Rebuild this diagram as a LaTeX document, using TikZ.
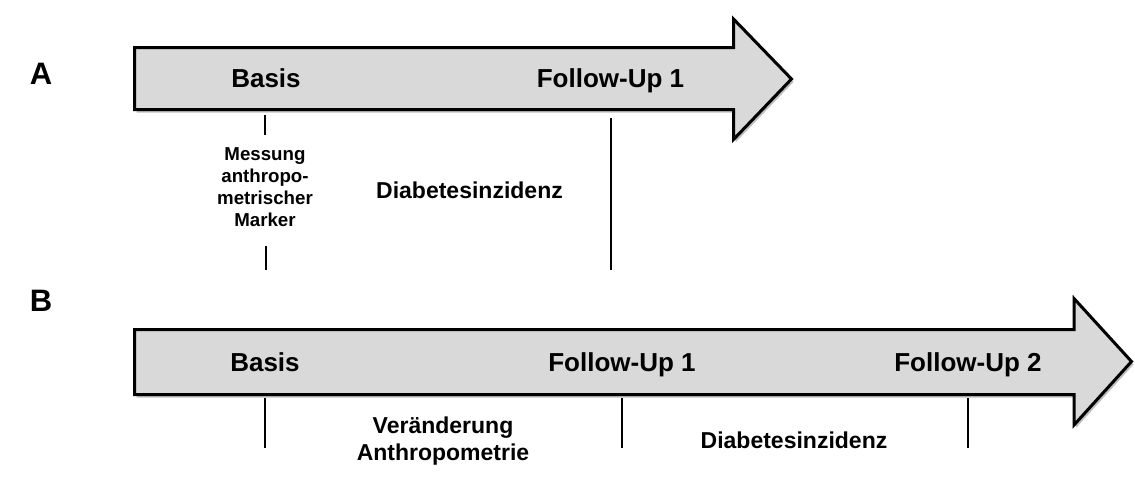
\documentclass[tikz,border=0pt]{standalone}
\usepackage{fontspec}
\setmainfont{Liberation Sans}
\definecolor{arrowfill}{HTML}{D9D9D9}
\tikzset{
  timearrow/.style={draw=black, line width=3pt, fill=arrowfill, line join=miter},
  arrowshadow/.style={fill=black, opacity=0.25},
  tick/.style={draw=black, line width=1.1pt},
  big/.style={font=\fontsize{26}{30}\selectfont\bfseries, inner sep=0pt, anchor=base},
  mid/.style={font=\fontsize{23}{27}\selectfont\bfseries, inner sep=0pt, anchor=base, align=center},
  small/.style={font=\fontsize{18.7}{22}\selectfont\bfseries, inner sep=0pt, anchor=base, align=center},
  panel/.style={font=\fontsize{31}{36}\selectfont\bfseries, inner sep=0pt, anchor=base},
}
\begin{document}
\begin{tikzpicture}[x=1pt, y=-1pt]
\useasboundingbox (0,0) rectangle (1135,477);
% Panel A arrow
\fill[arrowshadow, shift={(2,3)}] (134.5,47.5) -- (733.5,47.5) -- (733.5,19) -- (791.5,79) -- (733.5,139.5) -- (733.5,109.5) -- (134.5,109.5) -- cycle;
\path[timearrow] (134.5,47.5) -- (733.5,47.5) -- (733.5,19) -- (791.5,79) -- (733.5,139.5) -- (733.5,109.5) -- (134.5,109.5) -- cycle;
% Panel B arrow
\fill[arrowshadow, shift={(2,3)}] (134.5,329.5) -- (1074,329.5) -- (1074,298.5) -- (1131.5,361.5) -- (1074,425) -- (1074,394.5) -- (134.5,394.5) -- cycle;
\path[timearrow] (134.5,329.5) -- (1074,329.5) -- (1074,298.5) -- (1131.5,361.5) -- (1074,425) -- (1074,394.5) -- (134.5,394.5) -- cycle;

% Panel labels
\node[panel] (lA) at (41,84) {A};
\node[panel] (lB) at (41,311) {B};

% Panel A texts
\node[big] (aBasis) at (266,87) {Basis};
\node[big] (aFU1) at (610.5,87) {Follow-Up 1};
\node[small] (aMess) at (265,226) {Messung\\anthropo-\\metrischer\\Marker};
\node[mid] (aDiab) at (469.5,198) {Diabetesinzidenz};

% Panel A ticks
\coordinate (a1t) at (265,115); \coordinate (a1b) at (265,135);
\coordinate (a2t) at (266,246); \coordinate (a2b) at (266,270);
\coordinate (a3t) at (611,118); \coordinate (a3b) at (611,270);
\draw[tick] (a1t) -- (a1b);
\draw[tick] (a2t) -- (a2b);
\draw[tick] (a3t) -- (a3b);

% Panel B texts
\node[big] (bBasis) at (265,371) {Basis};
\node[big] (bFU1) at (622,371) {Follow-Up 1};
\node[big] (bFU2) at (968,371) {Follow-Up 2};
\node[mid] (bVer) at (443,460) {Veränderung\\Anthropometrie};
\node[mid] (bDiab) at (794,448) {Diabetesinzidenz};

% Panel B ticks
\coordinate (b1t) at (265,398); \coordinate (b1b) at (265,448);
\coordinate (b2t) at (622,398); \coordinate (b2b) at (622,448);
\coordinate (b3t) at (968,398); \coordinate (b3b) at (968,448);
\draw[tick] (b1t) -- (b1b);
\draw[tick] (b2t) -- (b2b);
\draw[tick] (b3t) -- (b3b);
\end{tikzpicture}
\end{document}
